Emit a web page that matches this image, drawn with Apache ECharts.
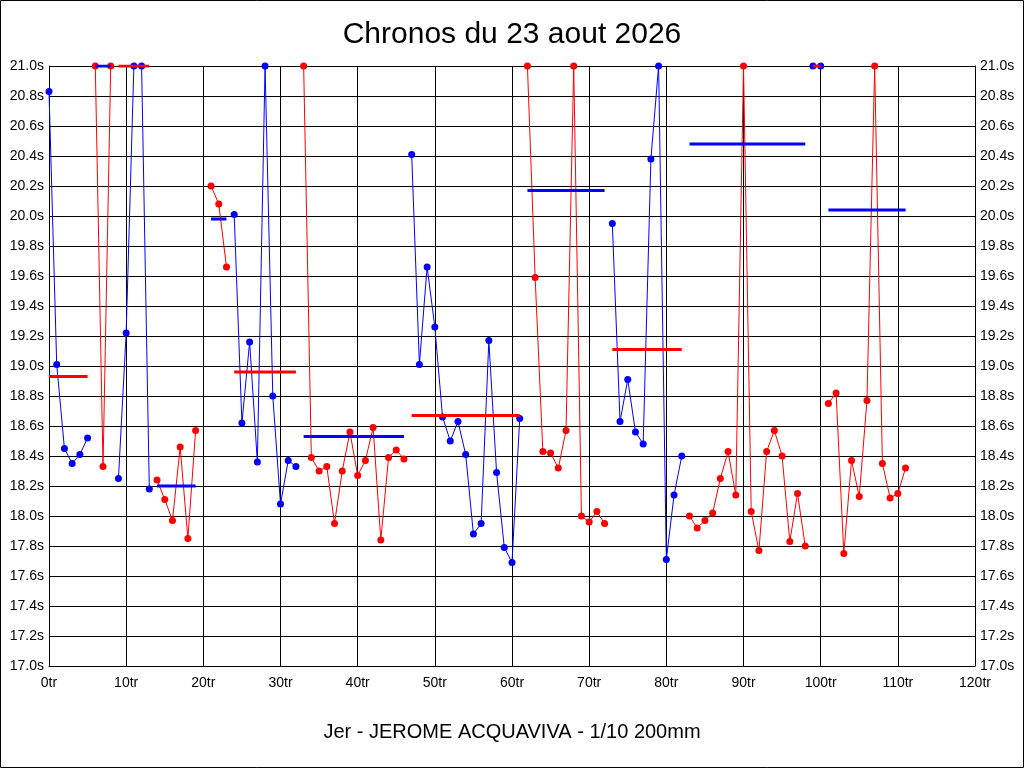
<!DOCTYPE html>
<html>
<head>
<meta charset="utf-8">
<title>Chronos du 23 aout 2026</title>
<script src="https://cdn.jsdelivr.net/npm/echarts@6.0.0/dist/echarts.min.js"></script>
<style>
    html, body { margin: 0; padding: 0; background: #fff; }
    #chronos { width: 1024px; height: 768px; }
</style>
</head>
<body>
<div id="chronos"></div>
<script>

// Chart data
// ------------------------------

// Lap time in seconds, index = lap number (null = no lap recorded, capped at 21.0)
var lapTimes = [
    20.83, 19.01, 18.45, 18.35, 18.41, 18.52, 21.0, 18.33, 21.0, 18.25,
    19.22, 21.0, 21.0, 18.18, 18.24, 18.11, 17.97, 18.46, 17.85, 18.57,
    null, 20.20, 20.08, 19.66, 20.01, 18.62, 19.16, 18.36, 21.0, 18.80,
    18.08, 18.37, 18.33, 21.0, 18.39, 18.30, 18.33, 17.95, 18.30, 18.56,
    18.27, 18.37, 18.59, 17.84, 18.39, 18.44, 18.38, 20.41, 19.01, 19.66,
    19.26, 18.66, 18.50, 18.63, 18.41, 17.88, 17.95, 19.17, 18.29, 17.79,
    17.69, 18.65, 21.0, 19.59, 18.43, 18.42, 18.32, 18.57, 21.0, 18.00,
    17.96, 18.03, 17.95, 19.95, 18.63, 18.91, 18.56, 18.48, 20.38, 21.0,
    17.71, 18.14, 18.40, 18.00, 17.92, 17.97, 18.02, 18.25, 18.43, 18.14,
    21.0, 18.03, 17.77, 18.43, 18.57, 18.40, 17.83, 18.15, 17.80, 21.0,
    21.0, 18.75, 18.82, 17.75, 18.37, 18.13, 18.77, 21.0, 18.35, 18.12,
    18.15, 18.32
];

// Stints: first lap, last lap, group (0 / 1) and average time
var stintFirst = [0, 6, 9, 14, 21, 24, 33, 47, 62, 73, 83, 99, 101];
var stintLast  = [5, 8, 13, 19, 23, 32, 46, 61, 72, 82, 98, 100, 111];
var stintGroup = [0, 1, 0, 1, 1, 0, 1, 0, 1, 0, 1, 0, 1];
var stintAvg   = [18.93, 21.0, 21.0, 18.20, 19.98, 18.96, 18.53, 18.67, 20.17, 19.11, 20.48, 21.0, 20.04];

// Axis ticks
var lapTicks  = { min: 0, max: 120, step: 10 };
var timeTicks = { min: 17.0, max: 21.0, step: 0.2 };


// Setup module
// ------------------------------

var EchartsChronos = function() {

    var _chronosChart = function() {
        if (typeof echarts == 'undefined') {
            console.warn('Warning - echarts.min.js is not loaded.');
            return;
        }

        var chronos_element = document.getElementById('chronos');
        if (!chronos_element) {
            return;
        }

        var chronos = echarts.init(chronos_element);

        // Colors: group 0 blue, group 1 red (average line in the other color)
        var colors = ['#0000ff', '#ff0000'];
        var font = 'Liberation Sans, Arial, sans-serif';

        //
        // Build series
        //

        var series = [];

        // Lap times, one line per stint
        stintFirst.forEach(function(first, i) {
            var points = [];
            for (var lap = first; lap <= stintLast[i]; lap++) {
                if (lapTimes[lap] != null) {
                    points.push([lap, lapTimes[lap]]);
                }
            }
            series.push({
                type: 'line',
                data: points,
                symbol: 'circle',
                symbolSize: 7,
                showAllSymbol: true,
                lineStyle: { color: colors[stintGroup[i]], width: 1 },
                itemStyle: { color: colors[stintGroup[i]] },
                emphasis: { disabled: true },
                z: 2
            });
        });

        // Stint averages
        stintFirst.forEach(function(first, i) {
            series.push({
                type: 'line',
                data: [[first, stintAvg[i]], [stintLast[i], stintAvg[i]]],
                symbol: 'none',
                lineStyle: { color: colors[1 - stintGroup[i]], width: 3 },
                emphasis: { disabled: true },
                z: 3
            });
        });

        // Vertical axis, shared by left and right
        var timeAxis = function(position) {
            return {
                type: 'value',
                position: position,
                min: timeTicks.min,
                max: timeTicks.max,
                interval: timeTicks.step,
                axisLine: { show: true, lineStyle: { color: '#000', width: 1 } },
                axisTick: { show: false },
                axisLabel: {
                    color: '#000',
                    fontFamily: font,
                    fontSize: 14,
                    margin: 5,
                    formatter: function(value) {
                        return value.toFixed(1) + 's';
                    }
                },
                splitLine: {
                    show: position == 'left',
                    lineStyle: { color: '#000', width: 1 }
                }
            };
        };

        //
        // Chart config
        //

        chronos.setOption({
            animation: false,
            backgroundColor: '#fff',

            title: {
                text: 'Chronos du 23 aout 2026',
                left: 'center',
                top: 15,
                textStyle: {
                    color: '#000',
                    fontFamily: font,
                    fontSize: 30,
                    fontWeight: 'normal'
                }
            },

            grid: {
                left: 49,
                right: 49,
                top: 66,
                bottom: 102
            },

            xAxis: [{
                type: 'value',
                min: lapTicks.min,
                max: lapTicks.max,
                interval: lapTicks.step,
                axisLine: { show: true, onZero: false, lineStyle: { color: '#000', width: 1 } },
                axisTick: { show: false },
                axisLabel: {
                    color: '#000',
                    fontFamily: font,
                    fontSize: 14,
                    margin: 10,
                    formatter: '{value}tr'
                },
                splitLine: { show: true, lineStyle: { color: '#000', width: 1 } }
            }],

            yAxis: [timeAxis('left'), timeAxis('right')],

            graphic: [
                {
                    type: 'rect',
                    shape: { x: 0.5, y: 0.5, width: 1023, height: 767 },
                    style: { fill: 'none', stroke: '#000', lineWidth: 1 },
                    silent: true
                },
                {
                    type: 'text',
                    left: 'center',
                    top: 722,
                    style: {
                        text: 'Jer - JEROME ACQUAVIVA - 1/10 200mm',
                        fill: '#000',
                        font: '20px ' + font
                    },
                    silent: true
                }
            ],

            series: series
        });
    };

    return {
        init: function() {
            _chronosChart();
        }
    }
}();


// Initialize module
// ------------------------------

document.addEventListener('DOMContentLoaded', function() {
    EchartsChronos.init();
});
</script>
</body>
</html>
